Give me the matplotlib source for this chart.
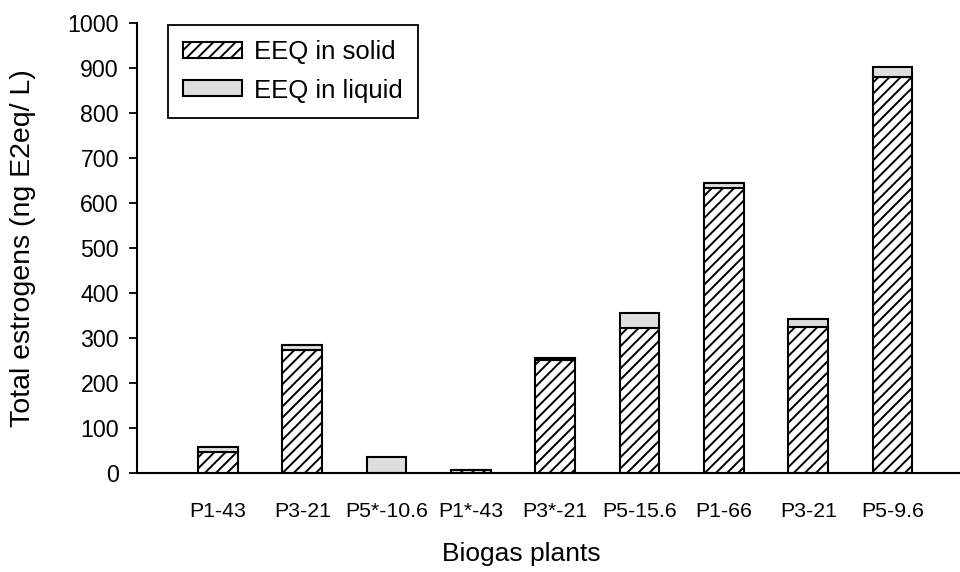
import numpy as np
import matplotlib as mpl
import matplotlib.pyplot as plt

mpl.use('Agg')

plt.rcParams['font.family'] = ['Liberation Sans', 'DejaVu Sans']
plt.rcParams['hatch.linewidth'] = 1.4

# estrogen equivalents per biogas plant (ng E2eq / L)
plants = ['P1-43', 'P3-21', 'P5*-10.6', 'P1*-43', 'P3*-21',
          'P5-15.6', 'P1-66', 'P3-21', 'P5-9.6']
eeq_solid = [45, 272, 0, 5, 250, 322, 632, 323, 880]
eeq_liquid = [12, 11, 35, 2, 5, 34, 12, 18, 21]

fig = plt.figure(figsize=(9.6, 5.72), dpi=100)
ax = fig.add_axes([0.1427, 0.1736, 0.8573, 0.7867])

x = np.arange(len(plants))
width = 0.47
ax.bar(x, eeq_solid, width, color='white', edgecolor='black',
       linewidth=1.5, hatch='///', label='EEQ in solid')
ax.bar(x, eeq_liquid, width, bottom=eeq_solid, color='#dedede',
       edgecolor='black', linewidth=1.5, label='EEQ in liquid')

ax.set_xlim(-0.96, 8.8)
ax.set_ylim(0, 1000)
ax.set_yticks(range(0, 1001, 100))
ax.set_xticks(x)
ax.set_xticklabels(plants, fontsize=15.3)
ax.tick_params(axis='x', length=0, pad=21)
ax.tick_params(axis='y', length=6, width=1.3, labelsize=16.7, pad=7)

for side in ['top', 'right']:
    ax.spines[side].set_visible(False)
for side in ['left', 'bottom']:
    ax.spines[side].set_linewidth(1.5)

ax.set_xlabel('Biogas plants', fontsize=19, va='top')
ax.xaxis.set_label_coords(0.467, -0.155)
ax.set_ylabel('Total estrogens (ng E2eq/ L)', fontsize=20.5)
ax.yaxis.set_label_coords(-0.123, 0.5)

leg = ax.legend(loc='upper left', bbox_to_anchor=(0.1747, 0.9563),
                bbox_transform=fig.transFigure, borderaxespad=0,
                fontsize=18.5, handlelength=2.3, handleheight=0.58,
                handletextpad=0.45, labelspacing=0.55, borderpad=0.6,
                fancybox=False, framealpha=1, edgecolor='black')
leg.get_frame().set_linewidth(1.3)

fig.savefig('out.png', dpi=100)
